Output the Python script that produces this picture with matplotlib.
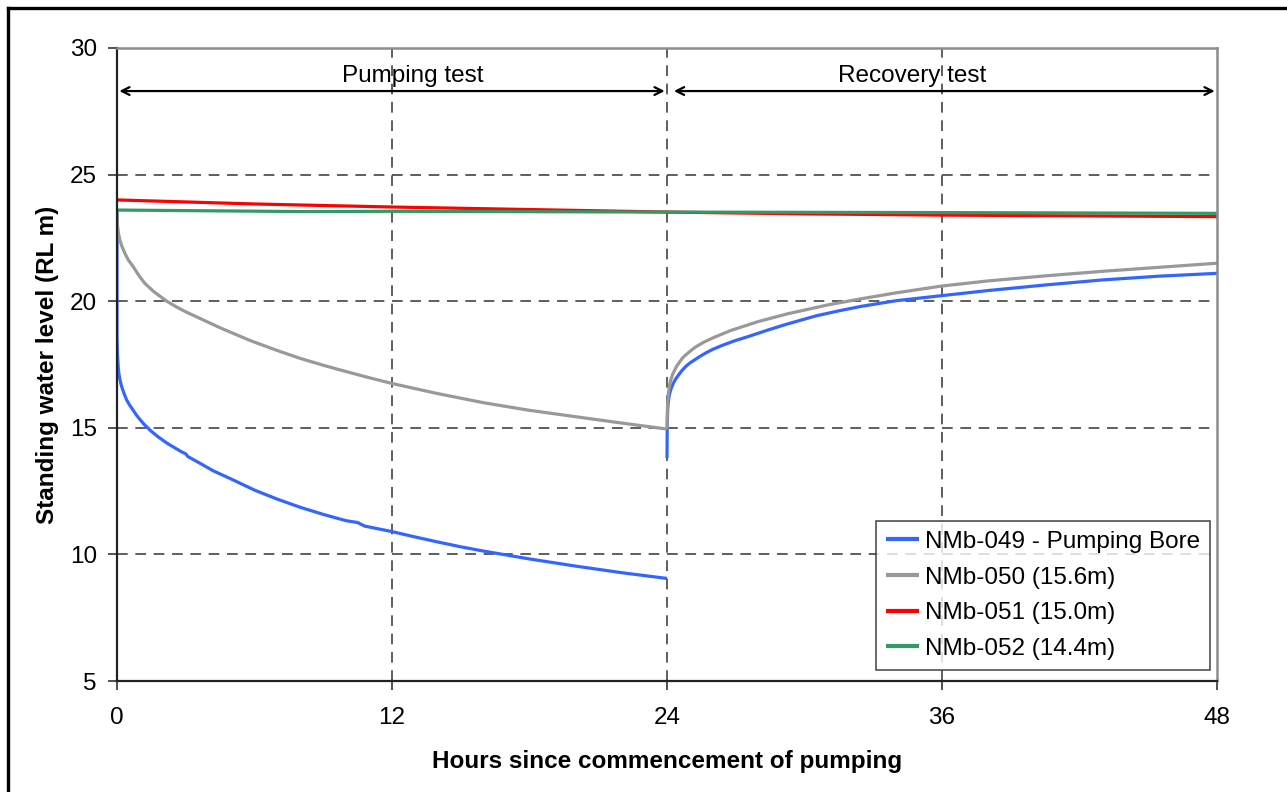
import matplotlib
matplotlib.use("Agg")
import matplotlib.pyplot as plt
from matplotlib.lines import Line2D

plt.rcParams['font.family'] = ['Liberation Sans', 'DejaVu Sans']

# NMb-049 pumping bore: drawdown phase and recovery phase (hours, RL m)
bore049_pump_t = [0, 0.0, 0.02, 0.05, 0.08, 0.13, 0.18, 0.25, 0.33, 0.42, 0.55, 0.7, 0.85,
                  1.0, 1.2, 1.5, 1.8, 2.17, 2.5, 2.8, 3.0, 3.1, 3.3, 3.62, 4.2, 4.93,
                  6, 7, 8, 9, 10, 10.5, 10.8, 12, 13, 14, 15, 16, 18, 20, 22, 24]
bore049_pump_y = [23.6, 18.6, 17.9, 17.45, 17.15, 16.9, 16.7, 16.5, 16.3, 16.1, 15.9, 15.7, 15.5,
                  15.33, 15.12, 14.86, 14.64, 14.4, 14.22, 14.06, 13.97, 13.86, 13.76, 13.6, 13.3, 13.0,
                  12.54, 12.18, 11.86, 11.58, 11.33, 11.26, 11.12, 10.9, 10.69, 10.49, 10.3, 10.13,
                  9.82, 9.54, 9.28, 9.05]
bore049_rec_t = [24.0, 24.005, 24.01, 24.02, 24.03, 24.05, 24.1, 24.18, 24.27, 24.38, 24.5,
                 24.6, 24.71, 24.85, 25.0, 25.2, 25.44, 25.7, 26.0, 26.4, 26.9, 27.6, 28.4,
                 29.25, 30.5, 31.5, 32.5, 34, 36, 38, 40.5, 43, 45.5, 48]
bore049_rec_y = [13.8, 14.5, 15.0, 15.4, 15.7, 15.95, 16.3, 16.55, 16.75, 16.93, 17.08,
                 17.2, 17.32, 17.45, 17.56, 17.68, 17.82, 17.96, 18.1, 18.25, 18.42, 18.62, 18.86,
                 19.1, 19.42, 19.62, 19.8, 20.02, 20.22, 20.42, 20.64, 20.84, 20.99, 21.1]

# NMb-050 observation bore (15.6 m)
bore050_pump_t = [0, 0.02, 0.06, 0.13, 0.22, 0.35, 0.5, 0.71, 0.95, 1.2, 1.6, 2.17, 2.6, 3.0,
                  3.62, 4.5, 5.8, 7.0, 8.0, 9, 10, 11, 12, 14, 16, 18, 20, 22, 24]
bore050_pump_y = [23.6, 23.0, 22.7, 22.4, 22.15, 21.88, 21.62, 21.36, 21.02, 20.72, 20.38,
                  20.0, 19.77, 19.58, 19.32, 18.95, 18.45, 18.05, 17.74, 17.47, 17.22, 16.98,
                  16.75, 16.35, 15.99, 15.69, 15.44, 15.19, 14.95]
bore050_rec_t = [24.0, 24.01, 24.02, 24.04, 24.06, 24.1, 24.15, 24.25, 24.4, 24.55, 24.7,
                 24.95, 25.21, 25.6, 26.0, 26.8, 28.0, 29.25, 31, 32.5, 34, 36, 38, 40.5,
                 43, 45.5, 48]
bore050_rec_y = [14.95, 15.4, 15.8, 16.1, 16.35, 16.6, 16.85, 17.12, 17.4, 17.6, 17.78,
                 17.98, 18.17, 18.38, 18.55, 18.85, 19.2, 19.5, 19.85, 20.1, 20.33, 20.6,
                 20.8, 21.0, 21.18, 21.34, 21.5]

# NMb-051 (15.0 m) and NMb-052 (14.4 m)
bore051_t = [0, 6, 12, 18, 24, 30, 36, 42, 48]
bore051_y = [24.0, 23.84, 23.72, 23.62, 23.52, 23.45, 23.4, 23.37, 23.34]
bore052_t = [0, 8, 12, 24, 36, 48]
bore052_y = [23.6, 23.54, 23.55, 23.52, 23.5, 23.47]

labels = ["NMb-049 - Pumping Bore", "NMb-050 (15.6m)", "NMb-051 (15.0m)", "NMb-052 (14.4m)"]
colors = ["#3366FF", "#999999", "#FF0000", "#339966"]

x_ticks = [0, 12, 24, 36, 48]
y_ticks = [5, 10, 15, 20, 25, 30]

fig = plt.figure(figsize=(12.87, 7.92), dpi=100)
ax = fig.add_axes([117 / 1287, 1 - 681 / 792, 1100 / 1287, 633 / 792])

lw = 2.3
kw = dict(lw=lw, solid_capstyle='butt', solid_joinstyle='round')
ax.plot(bore049_pump_t, bore049_pump_y, color=colors[0], label=labels[0], **kw)
ax.plot(bore049_rec_t, bore049_rec_y, color=colors[0], **kw)
ax.plot(bore050_pump_t, bore050_pump_y, color=colors[1], label=labels[1], **kw)
ax.plot(bore050_rec_t, bore050_rec_y, color=colors[1], **kw)
ax.plot(bore051_t, bore051_y, color=colors[2], label=labels[2], **kw)
ax.plot(bore052_t, bore052_y, color=colors[3], label=labels[3], **kw)

ax.set_xlim(0, 48)
ax.set_ylim(5, 30)
ax.set_xticks(x_ticks)
ax.set_yticks(y_ticks)
ax.tick_params(axis='both', labelsize=17.5, direction='out', length=6.5, width=1.2, color='#333333')
ax.tick_params(axis='x', pad=12)
ax.tick_params(axis='y', pad=8)

# dashed grid
for gx in [12, 24, 36]:
    ax.axvline(gx, color='#333333', lw=1.1, ls=(0, (7, 5)), zorder=0.5)
for gy in [10, 15, 20, 25]:
    ax.axhline(gy, color='#333333', lw=1.1, ls=(0, (7, 5)), zorder=0.5)

for side in ['left', 'bottom']:
    ax.spines[side].set_color('#222222')
    ax.spines[side].set_linewidth(1.6)
for side in ['top', 'right']:
    ax.spines[side].set_color('#8c8c8c')
    ax.spines[side].set_linewidth(1.8)

ax.set_xlabel("Hours since commencement of pumping", fontsize=17.5, fontweight='bold', labelpad=15)
ax.set_ylabel("Standing water level (RL m)", fontsize=17.5, fontweight='bold', labelpad=8)

# phase annotations
arrow_kw = dict(arrowstyle='<->', color='black', lw=1.6, shrinkA=0, shrinkB=0,
                mutation_scale=14)
ax.annotate('', xy=(0.1, 28.3), xytext=(23.9, 28.3), arrowprops=arrow_kw)
ax.annotate('', xy=(24.3, 28.3), xytext=(47.9, 28.3), arrowprops=arrow_kw)
ax.text(12.9, 28.9, "Pumping test", fontsize=17.5, ha='center', va='center')
ax.text(34.7, 28.9, "Recovery test", fontsize=17.5, ha='center', va='center')

leg = ax.legend(loc='lower right', bbox_to_anchor=(0.9936, 0.0174), borderaxespad=0,
                fontsize=17.5, frameon=True, fancybox=False, handlelength=1.35,
                handletextpad=0.25, labelspacing=0.56, borderpad=0.42)
leg.get_frame().set_edgecolor('#222222')
leg.get_frame().set_linewidth(1.2)
for h in leg.get_lines():
    h.set_linewidth(3)

# outer chart frame
fig.add_artist(Line2D([7.5 / 1287, 7.5 / 1287], [0, 1 - 7.5 / 792], color='black', lw=2.4,
                      transform=fig.transFigure))
fig.add_artist(Line2D([7.5 / 1287, 1], [1 - 7.5 / 792, 1 - 7.5 / 792], color='black', lw=2.4,
                      transform=fig.transFigure))

fig.savefig("out.png", dpi=100)
